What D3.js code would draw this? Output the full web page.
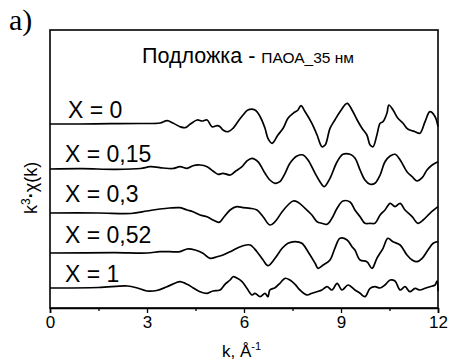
<!DOCTYPE html>
<html>
<head>
<meta charset="utf-8">
<script src="https://cdn.jsdelivr.net/npm/d3@7"></script>
<style>
  body { margin: 0; background: #fff; }
  svg { display: block; font-family: "Liberation Sans", Arial, sans-serif; }
</style>
</head>
<body>
<div id="chart"></div>
<script>
// series labels and vertical stacking offsets (same units as chi)
const labels = ["X = 0", "X = 0,15", "X = 0,3", "X = 0,52", "X = 1"];
const offsets = [184, 139, 95, 55, 20];

// k^3*chi(k), [k, value]
const chiX0 = [[0,0],[0.9,0],[1.9,0.3],[2.8,0.5],[3.4,1],[3.62,3.3],[3.8,1],[4.02,-2.7],[4.18,-3.7],[4.33,-0.3],[4.55,4],[4.7,3],[4.86,4],[5.01,-2.7],[5.17,-1.7],[5.26,-2.7],[5.35,-6],[5.51,-7.7],[5.66,-4.3],[5.81,2.3],[5.97,9],[6.12,14],[6.34,14],[6.5,7.3],[6.65,-4.3],[6.74,-14.3],[6.87,-19.3],[7.05,-11],[7.21,-4.3],[7.36,5.7],[7.52,10.7],[7.67,14],[7.76,18.3],[7.89,12.3],[8.1,0.7],[8.26,-11],[8.41,-22.7],[8.51,-21],[8.66,-4.3],[8.81,4],[8.97,12.3],[9.19,20.7],[9.34,14],[9.5,4],[9.65,-4.3],[9.8,-11],[9.9,-21],[9.99,-22.7],[10.11,-11],[10.21,0.7],[10.3,2.3],[10.42,10.7],[10.48,19],[10.61,14],[10.76,5.7],[10.92,0.7],[11.04,-4.3],[11.13,-6],[11.29,-7.7],[11.44,-9.3],[11.6,2.3],[11.75,12.3],[11.91,7.3],[12,-2.7]];
const chiX015 = [[0,0],[1,0.3],[2,-0.3],[2.8,0.5],[3.1,2.3],[3.5,1],[3.8,0.5],[4.02,2.3],[4.24,0.7],[4.42,3.3],[4.64,4],[4.86,2.3],[5.04,-2],[5.2,-5.3],[5.35,-4.3],[5.57,-6],[5.72,-2.7],[5.94,2.3],[6.09,8],[6.25,10.7],[6.43,7.3],[6.65,-4.3],[6.8,-11],[6.96,-14.3],[7.11,-12.7],[7.27,-4.3],[7.42,5.7],[7.64,13],[7.83,14],[7.98,9],[8.2,-4.3],[8.35,-12.7],[8.48,-17.7],[8.66,-9.3],[8.88,7.3],[9.06,14.7],[9.28,14.7],[9.43,11],[9.59,-1],[9.74,-11],[9.9,-15.3],[10.05,-14.3],[10.21,-6],[10.36,7.3],[10.52,13],[10.67,14.7],[10.83,9],[11.04,-2.7],[11.2,-7.7],[11.35,-12],[11.51,-8.7],[11.66,-1],[11.82,4],[12,7.3]];
const chiX03 = [[0,0],[1.5,0],[2.5,-0.5],[3,2],[3.4,4],[3.7,5],[4.02,5.3],[4.24,3],[4.42,1.3],[4.64,-2],[4.86,-3.7],[5.04,-7],[5.23,-9.3],[5.35,-5.3],[5.57,3],[5.78,6.3],[5.97,5.3],[6.19,4.7],[6.4,3],[6.59,-3.7],[6.8,-12],[6.96,-8.7],[7.18,1.3],[7.36,8],[7.52,12],[7.67,10.7],[7.89,4.7],[8.1,-2],[8.26,-8.7],[8.41,-10.3],[8.57,-11.3],[8.72,-5.3],[8.88,4.7],[9.06,12],[9.28,11],[9.43,3],[9.59,-3.7],[9.74,-10.3],[9.9,-10.3],[10.05,-10.3],[10.21,-2],[10.36,3],[10.52,9.7],[10.67,6.3],[10.83,9.7],[10.98,3],[11.2,-3.7],[11.38,-10.3],[11.54,-7],[11.75,-0.3],[12,6.3]];
const chiX052 = [[0,0],[2,0.3],[3,0],[3.4,1.3],[3.7,1.3],[4.02,1.3],[4.24,4],[4.49,3],[4.73,-0.3],[4.95,-5.3],[5.17,-3.7],[5.35,-2],[5.57,1.3],[5.78,4.7],[5.97,7.3],[6.19,8],[6.4,1.3],[6.59,-7],[6.74,-12.7],[6.96,-5.3],[7.18,4.7],[7.36,9.7],[7.58,11.3],[7.79,9.7],[7.98,1.3],[8.2,-10.3],[8.29,-15.3],[8.45,-12],[8.66,-7],[8.81,4.7],[8.97,14.7],[9.19,13],[9.34,6.3],[9.43,3],[9.59,-7],[9.8,-8.7],[9.96,-15.3],[10.11,-5.3],[10.3,4.7],[10.45,14.7],[10.61,11.3],[10.83,8],[11.04,-2],[11.2,-7],[11.35,-8.7],[11.51,-5.3],[11.69,3],[11.85,9.7],[12,11.3]];
const chiX1 = [[0,0],[1.5,0.5],[2.4,2],[2.7,0],[3,-3],[3.3,-2.5],[3.6,1],[3.9,5.3],[4.02,6.3],[4.24,3.7],[4.42,0.3],[4.64,-3.7],[4.86,-5.3],[5.04,-3],[5.26,-2],[5.41,3.7],[5.57,8],[5.66,11.3],[5.78,10],[5.94,6.3],[6.09,-0.3],[6.25,-7],[6.34,-5.3],[6.5,-8.7],[6.65,-5.3],[6.74,-8.7],[6.8,-2],[6.96,0.3],[7.11,4.7],[7.27,9.7],[7.42,8],[7.58,3.7],[7.73,-2],[7.95,-7],[8.1,-5.3],[8.26,-3.7],[8.41,-2],[8.57,1.3],[8.72,-2],[8.88,4.7],[9.03,-2],[9.22,3],[9.43,-2],[9.59,-5.3],[9.74,-8.7],[9.9,-0.3],[10.05,1.3],[10.21,0],[10.36,3],[10.52,8],[10.67,7],[10.83,-2],[10.98,1.3],[11.13,-3.7],[11.29,-0.3],[11.44,-2],[11.6,-0.3],[11.75,1.3],[11.91,3],[11.97,7],[12,-3]];
const series = [chiX0, chiX015, chiX03, chiX052, chiX1];

const xTicks = [0, 3, 6, 9, 12];
const xMinor = [1.5, 4.5, 7.5, 10.5];

const W = 449, H = 363;
const margin = {top: 30, right: 11, bottom: 55, left: 50};
const width = W - margin.left - margin.right;
const height = H - margin.top - margin.bottom;

const svg = d3.select("#chart").append("svg")
    .attr("width", W).attr("height", H);

const g = svg.append("g")
    .attr("transform", "translate(" + margin.left + "," + margin.top + ")");

const x = d3.scaleLinear().domain([0, 12]).range([0, width]);
const y = d3.scaleLinear().domain([0, 278]).range([height, 0]);

// curves
const line = d3.line()
    .x(d => x(d[0]))
    .y(d => d[1])
    .curve(d3.curveCatmullRom.alpha(0.5));

series.forEach((s, i) => {
  g.append("path")
      .datum(s.map(p => [p[0], y(p[1] + offsets[i])]))
      .attr("fill", "none")
      .attr("stroke", "#000")
      .attr("stroke-width", 1.7)
      .attr("stroke-linejoin", "round")
      .attr("d", line);
});

// series labels
const labelX = [18, 15, 15, 15, 15];
const labelBase = [88, 132, 172, 213, 252];
labels.forEach((t, i) => {
  g.append("text")
      .attr("x", labelX[i])
      .attr("y", labelBase[i])
      .style("font-size", "23px")
      .text(t);
});

// frame
g.append("rect")
    .attr("width", width).attr("height", height)
    .attr("fill", "none")
    .attr("stroke", "#000")
    .attr("stroke-width", 1.6);

// x axis
const xAxis = g.append("g")
    .attr("transform", "translate(0," + height + ")")
    .call(d3.axisBottom(x).tickValues(xTicks).tickSize(5).tickPadding(3));
xAxis.select(".domain").attr("stroke-width", 1.6);
xAxis.selectAll(".tick line").attr("stroke-width", 1.3);
xAxis.selectAll("text")
    .style("font-size", "17px")
    .attr("fill", "#000")
    .style("font-family", "Liberation Sans, Arial, sans-serif");

g.append("g")
    .attr("transform", "translate(0," + height + ")")
    .call(d3.axisBottom(x).tickValues(xMinor).tickSize(3).tickFormat(""))
    .call(a => a.select(".domain").remove())
    .selectAll(".tick line").attr("stroke-width", 1.3);

// x label
const xl = svg.append("text")
    .attr("x", 222).attr("y", 357)
    .style("font-size", "17px");
xl.append("tspan").text("k, Å");
xl.append("tspan").attr("dy", -7).style("font-size", "11px").text("-1");

// y label
const yl = svg.append("text")
    .attr("transform", "translate(37,214) rotate(-90)")
    .style("font-size", "18px");
yl.append("tspan").text("k");
yl.append("tspan").attr("dy", -7).style("font-size", "12px").text("3");
yl.append("tspan").attr("dy", 7).style("font-weight", "bold").text("·");
yl.append("tspan").text("χ(k)");

// title
const title = svg.append("text")
    .attr("x", 142).attr("y", 63);
title.append("tspan").style("font-size", "21.5px").text("Подложка - ");
title.append("tspan").style("font-size", "15.5px").text("ПАОА_35 нм");

// panel letter
svg.append("text")
    .attr("x", 9).attr("y", 30)
    .style("font-family", "Liberation Serif, Times New Roman, serif")
    .style("font-size", "30px")
    .text("a)");
</script>
</body>
</html>
